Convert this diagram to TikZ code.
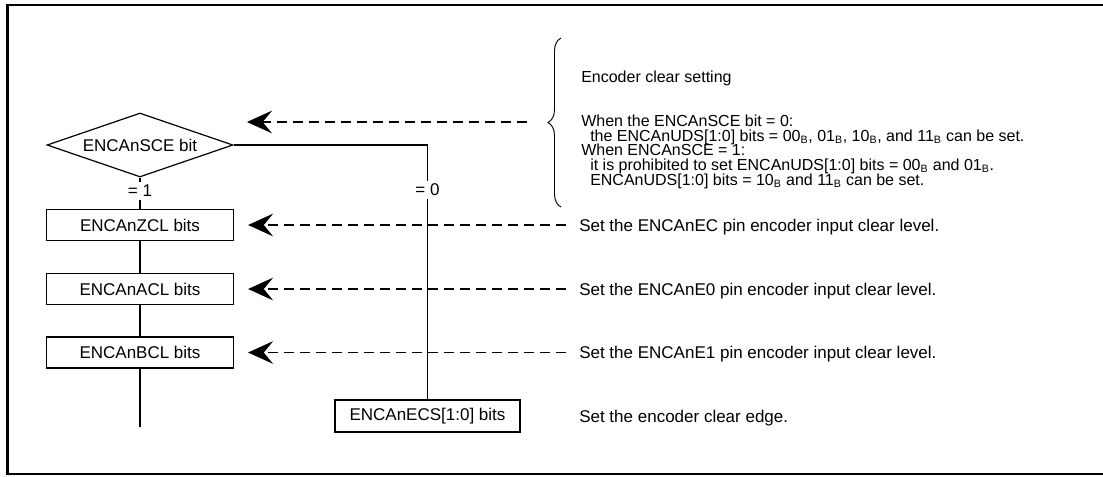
\documentclass[tikz,border=0pt]{standalone}
\usepackage{fontspec}
\setmainfont{Liberation Sans}
\usetikzlibrary{arrows.meta,shapes.geometric,decorations.pathreplacing}

\newcommand{\binv}[1]{#1\textsubscript{B}}

\tikzset{
    regbox/.style={draw, line width=0.9pt, minimum width=140.25pt, minimum height=23.25pt, inner sep=0pt},
    decision/.style={draw, diamond, aspect=2.9, line width=0.9pt, minimum width=139.5pt, minimum height=48pt, inner sep=0pt},
    flow/.style={line width=0.9pt},
    setarrow/.style={line width=0.8pt, dash pattern=on 7.5pt off 4.5pt, -{Stealth[length=18.75pt, width=17pt, inset=7pt]}},
    note/.style={anchor=base west, inner sep=0pt},
    clrnote/.style={note, font=\fontsize{12pt}{13pt}\selectfont},
    cond/.style={inner sep=2pt}
}

\begin{document}
\begin{tikzpicture}[x=0.75pt, y=-0.75pt, font=\fontsize{12.75pt}{15pt}\selectfont]
    \useasboundingbox (0,0) rectangle (1103,476);
    \clip (0,0) rectangle (1103,476);

    % Outer frame
    \draw[line width=1.9pt] (7.7,4.8) rectangle (1112,474.2);

    % Flow of the register settings
    \node[decision] (sce) at (140,145) {ENCAnSCE bit};
    \node[cond] (eq1) at (140,191) {= 1};
    \node[regbox] (zcl) at (140,225) {ENCAnZCL bits};
    \node[regbox] (acl) at (140,289) {ENCAnACL bits};
    \node[regbox] (bcl) at (140,352.5) {ENCAnBCL bits};
    \coordinate (bclend) at (140,427);

    \node[cond] (eq0) at (427.5,190) {= 0};
    \node[regbox, minimum width=138.75pt, minimum height=24pt] (ecs) at (427.5,416) {ENCAnECS[1:0] bits};

    \draw[flow] (sce) -- (eq1) -- (zcl);
    \draw[flow] (zcl) -- (acl);
    \draw[flow] (acl) -- (bcl);
    \draw[flow] (bcl) -- (bclend);
    \draw[flow] (sce.east) -| (eq0);
    \draw[flow] (eq0) -- (ecs);

    % Encoder clear setting
    \draw[line width=0.7pt, decorate, decoration={brace, amplitude=9.75pt}] (561,207) -- (561,38);
    \node[clrnote] (clrhead) at (581,82) {Encoder clear setting};
    \node[clrnote] (clrsce0) at (581,126.5) {When the ENCAnSCE bit = 0:};
    \node[clrnote] (clruds0) at (590,141) {the ENCAnUDS[1:0] bits = \binv{00}, \binv{01}, \binv{10}, and \binv{11} can be set.};
    \node[clrnote] (clrsce1) at (581,155.5) {When ENCAnSCE = 1:};
    \node[clrnote] (clruds1) at (590,170) {it is prohibited to set ENCAnUDS[1:0] bits = \binv{00} and \binv{01}.};
    \node[clrnote] (clruds2) at (590,185.5) {ENCAnUDS[1:0] bits = \binv{10} and \binv{11} can be set.};

    \coordinate (clrout) at (527,122);
    \coordinate (scein) at (247,122);
    \draw[setarrow] (clrout) -- (scein);

    % Pin level and edge settings
    \node[note] (dzcl) at (579,231) {Set the ENCAnEC pin encoder input clear level.};
    \node[note] (dacl) at (579,295) {Set the ENCAnE0 pin encoder input clear level.};
    \node[note] (dbcl) at (579,358.5) {Set the ENCAnE1 pin encoder input clear level.};
    \node[note] (decs) at (579,422) {Set the encoder clear edge.};

    \draw[setarrow, shorten <=9.75pt, shorten >=10.5pt] (dzcl.west |- zcl) -- (zcl);
    \draw[setarrow, shorten <=9.75pt, shorten >=10.5pt] (dacl.west |- acl) -- (acl);
    \draw[setarrow, shorten <=9.75pt, shorten >=10.5pt] (dbcl.west |- bcl) -- (bcl);

\end{tikzpicture}
\end{document}
